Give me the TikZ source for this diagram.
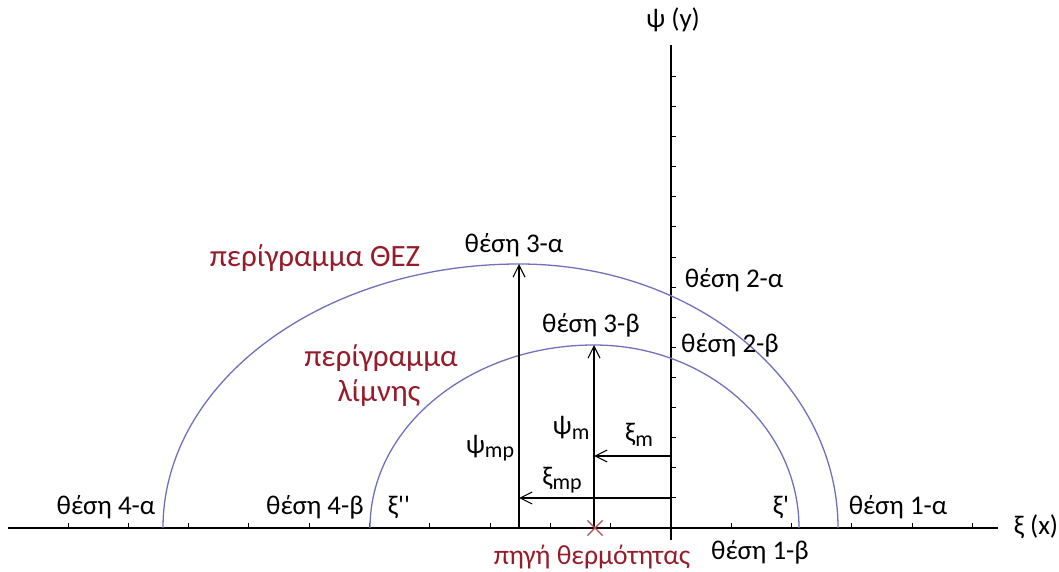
\documentclass[tikz,border=0pt]{standalone}
\usepackage{fontspec}
\setmainfont{Carlito}
\newfontfamily\rawfont{Carlito}
\usepackage{tikz}
\usetikzlibrary{arrows.meta, shapes.misc}
\definecolor{rimBlue}{RGB}{112, 112, 188}
\definecolor{labelRed}{RGB}{150, 28, 42}
\definecolor{srcRed}{RGB}{185, 70, 85}

\begin{document}
\begin{tikzpicture}[x=0.5pt, y=0.5pt, >={Straight Barb[length=6pt,width=6pt]},
  font=\fontsize{13.5}{16}\selectfont,
  ax/.style={line width=0.7pt, black},
  rim/.style={draw=rimBlue, line width=0.65pt},
  dim/.style={->, line width=0.55pt},
  lbl/.style={inner sep=1pt},
  red/.style={inner sep=1pt, text=labelRed, font=\fontsize{15.5}{18}\selectfont}]

  \useasboundingbox (0,0) rectangle (1059,572);

  % axes
  \coordinate (xs) at (8,44);
  \coordinate (xe) at (998,44);
  \coordinate (ys) at (671,32);
  \coordinate (ye) at (671,527);
  \draw[ax] (xs) -- (xe);
  \draw[ax] (ys) -- (ye);
  \foreach \k in {-10,...,-1,1,2,...,5}
    \draw[line width=0.5pt] (671+60.3*\k,44) -- (671+60.3*\k,48.5);
  \foreach \k in {1,...,15}
    \draw[line width=0.5pt] (671,44+30.1*\k) -- (675.5,44+30.1*\k);
  \node[lbl] (xlab) at (1036,45) {ξ (x)};
  \node[lbl] (ylab) at (673,552) {ψ (y)};

  % outlines
  \draw[rim] (163,44) arc[start angle=180, end angle=90, x radius=356, y radius=264]
                      arc[start angle=90, end angle=0, x radius=319, y radius=264];
  \draw[rim] (370,44) arc[start angle=180, end angle=90, x radius=224, y radius=183]
                      arc[start angle=90, end angle=0, x radius=205, y radius=183];

  % distances
  \coordinate (b3a) at (519,44);
  \coordinate (t3a) at (519,308);
  \coordinate (b3b) at (594,44);
  \coordinate (t3b) at (594,227);
  \coordinate (am) at (671,116);
  \coordinate (em) at (594,116);
  \coordinate (amp) at (671,74);
  \coordinate (emp) at (519,74);
  \draw[dim] (b3a) -- (t3a);
  \draw[dim] (b3b) -- (t3b);
  \draw[dim] (am) -- (em);
  \draw[dim] (amp) -- (emp);
  \node[lbl] (psimp) at (490,124) {ψ\raisebox{-0.35ex}{\fontsize{11}{13}\selectfont mp}};
  \node[lbl] (psim) at (571,144) {ψ\raisebox{-0.35ex}{\fontsize{11}{13}\selectfont m}};
  \node[lbl] (xim) at (639,137) {ξ\raisebox{-0.35ex}{\fontsize{11}{13}\selectfont m}};
  \node[lbl] (ximp) at (562,92) {ξ\raisebox{-0.35ex}{\fontsize{11}{13}\selectfont mp}};

  % heat source
  \node[cross out, draw=srcRed, line width=0.6pt, minimum size=7pt, inner sep=0pt] (src) at (595,44) {};
  \node[red, font=\fontsize{13.8}{16}\selectfont] (srclab) at (592,15) {πηγή θερμότητας};

  % positions
  \node[lbl] (p4a) at (106,65) {θέση 4-α};
  \node[lbl] (p4b) at (315,65) {θέση 4-β};
  \node[lbl] (xi2) at (399,65) {\rawfont ξ''};
  \node[lbl] (xi1) at (781,65) {\rawfont ξ'};
  \node[lbl] (p1a) at (898,65) {θέση 1-α};
  \node[lbl] (p1b) at (760,20) {θέση 1-β};
  \node[lbl] (p3a) at (514,327) {θέση 3-α};
  \node[lbl] (p3b) at (591,247) {θέση 3-β};
  \node[lbl] (p2a) at (734,292) {θέση 2-α};
  \node[lbl] (p2b) at (730,227) {θέση 2-β};

  \node[red] (rimA) at (315,314) {περίγραμμα ΘΕΖ};
  \node[red] (rimB) at (381,214) {περίγραμμα};
  \node[red] (rimC) at (379,179) {λίμνης};

\end{tikzpicture}
\end{document}
